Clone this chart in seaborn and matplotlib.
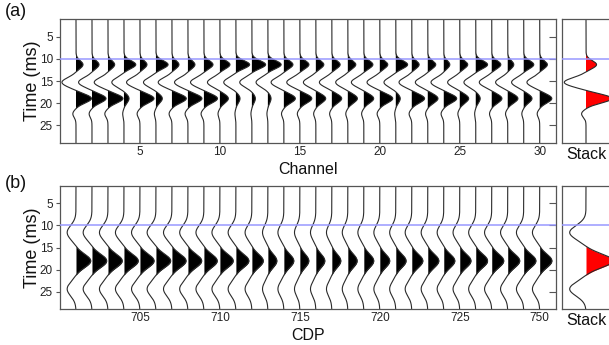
import numpy as np
import pandas as pd
import matplotlib
matplotlib.use("Agg")
import matplotlib.pyplot as plt
import seaborn as sns

# ---------------- data ----------------
channels = list(range(1, 31))
channel_ticks = [5, 10, 15, 20, 25, 30]
channel_ticklabels = ["5", "10", "15", "20", "25", "30"]
cdp_ticklabels = ["705", "710", "715", "720", "725", "750"]
time_ticks = [5, 10, 15, 20, 25]

# Gather (a): amplitudes of the events in each channel (units of trace spacing)
event1_amp = [0.44, 0.44, 0.42, 0.74, 0.44, 0.76, 0.44, 0.44, 0.57, 0.63,
              0.86, 0.86, 0.83, 0.57, 0.57, 0.50, 0.52, 0.50, 0.57, 0.50,
              0.74, 0.46, 0.50, 0.38, 0.50, 0.74, 0.57, 0.38, 0.63, 0.48]
trough_amp = [0.88, 0.84, 0.86, 0.76, 0.84, 0.78, 0.86, 0.84, 0.84, 0.78,
              0.76, 0.76, 0.74, 0.80, 0.82, 0.78, 0.78, 0.76, 0.78, 0.80,
              0.74, 0.80, 0.78, 0.80, 0.76, 0.74, 0.78, 0.76, 0.76, 0.80]
event2_amp = [0.97, 0.88, 0.94, 0.32, 0.88, 0.40, 0.90, 0.88, 0.85, 0.53,
              0.26, 0.22, 0.20, 0.72, 0.75, 0.62, 0.62, 0.60, 0.62, 0.81,
              0.28, 0.80, 0.64, 0.81, 0.56, 0.28, 0.64, 0.64, 0.52, 0.76]
tail_amp = [0.20, 0.18, 0.20, 0.08, 0.18, 0.10, 0.18, 0.18, 0.18, 0.12,
            0.06, 0.06, 0.06, 0.15, 0.16, 0.14, 0.14, 0.13, 0.14, 0.17,
            0.07, 0.17, 0.14, 0.17, 0.12, 0.07, 0.14, 0.14, 0.12, 0.16]

# Gather (b): amplitude of the single reflection in each CDP
cdp_amp = [0.92, 0.92, 0.89, 0.89, 0.88, 0.92, 0.88, 0.86, 0.83, 0.83,
           0.81, 0.71, 0.56, 0.62, 0.56, 0.56, 0.56, 0.58, 0.62, 0.62,
           0.64, 0.69, 0.69, 0.69, 0.70, 0.74, 0.75, 0.75, 0.76, 0.76]

# Stacked traces
stack_a = {"event1": 0.66, "trough": 1.36, "event2": 1.62, "tail": 0.28}
stack_b = 1.70

# ---------------- wavelets ----------------
t = np.arange(0.5, 29.5, 0.04)


def pulse(c, s):
    return np.exp(-0.5 * ((t - c) / s) ** 2)


def trace_a(a1, am, a2, a3):
    return (a1 * pulse(11.3, 0.90) - am * pulse(15.3, 1.05)
            + a2 * pulse(18.95, 1.0) - a3 * pulse(22.4, 0.80))


def trace_b(a):
    return a * (pulse(18.0, 1.5) - 0.6 * pulse(11.6, 1.6) - 0.6 * pulse(24.4, 1.6))


sns.set_theme(style="white")
plt.rcParams["font.family"] = ["Liberation Sans", "DejaVu Sans"]

W, H = 609, 345
fig = plt.figure(figsize=(W / 100, H / 100), dpi=100)


def px_axes(l, tp, r, b):
    return fig.add_axes([l / W, 1 - b / H, (r - l) / W, (b - tp) / H])


axA = px_axes(60, 19, 555.7, 143)
axAs = px_axes(561.7, 19, 612, 143)
axB = px_axes(60, 185.7, 555.7, 309.3)
axBs = px_axes(561.7, 185.7, 612, 309.3)

LINE = "#2a2a2a"
SPINE = "#555555"


def wiggle(ax, positions, traces, fill):
    rows = []
    for x0, s in zip(positions, traces):
        rows.append(pd.DataFrame({"trace": x0, "x": x0 + s, "t": t}))
    df = pd.concat(rows, ignore_index=True)
    for x0, s in zip(positions, traces):
        ax.fill_betweenx(t, x0, x0 + s, where=s > 0, interpolate=True,
                         color=fill, lw=0)
    sns.lineplot(data=df, x="x", y="t", units="trace", estimator=None,
                 sort=False, orient="y", color=LINE, linewidth=0.8,
                 legend=False, ax=ax)


traces_a = [trace_a(*v) for v in zip(event1_amp, trough_amp, event2_amp, tail_amp)]
traces_b = [trace_b(a) for a in cdp_amp]
stack_trace_a = trace_a(stack_a["event1"], stack_a["trough"], stack_a["event2"], stack_a["tail"])
stack_trace_b = trace_b(stack_b)

wiggle(axA, channels, traces_a, "black")
wiggle(axB, channels, traces_b, "black")
wiggle(axAs, [0], [stack_trace_a], "red")
wiggle(axBs, [0], [stack_trace_b], "red")

for ax, labels, xlabel in [(axA, channel_ticklabels, "Channel"),
                           (axB, cdp_ticklabels, "CDP")]:
    ax.set_xlim(0, 31)
    ax.set_ylim(29, 1)
    ax.set_xticks(channel_ticks)
    ax.set_xticklabels(labels)
    ax.set_yticks(time_ticks)
    ax.tick_params(axis="x", length=0, pad=2, labelsize=8.5, colors="#222")
    ax.tick_params(axis="y", length=3, width=0.8, direction="out", pad=2,
                   labelsize=8.5, left=True, colors="#222")
    ax.tick_params(axis="y", color=SPINE)
    ax.set_xlabel(xlabel, fontsize=11.5, labelpad=3, color="#111")
    ax.set_ylabel("Time (ms)", fontsize=13, labelpad=-1, color="#111")
    sec = ax.secondary_yaxis("right")
    sec.set_yticks(time_ticks)
    sec.tick_params(direction="in", length=5, width=0.8, color=SPINE,
                    labelright=False)
    for sp in sec.spines.values():
        sp.set_visible(False)

for ax in (axAs, axBs):
    ax.set_xlim(-24.3 / 16, (612 - 561.7 - 24.3) / 16)
    ax.set_ylim(29, 1)
    ax.set_xticks([])
    ax.set_yticks([])
    ax.set_xlabel("Stack", fontsize=11.5, labelpad=3, color="#111")
    ax.set_ylabel("")

for ax in (axA, axAs, axB, axBs):
    ax.axhline(10, color="#9898ff", lw=1.1, zorder=5)
    for sp in ax.spines.values():
        sp.set_color(SPINE)
        sp.set_linewidth(0.9)

fig.text(5 / W, 1 - 12 / H, "(a)", fontsize=13, va="center", ha="left", color="#111")
fig.text(5 / W, 1 - 183 / H, "(b)", fontsize=13, va="center", ha="left", color="#111")

fig.savefig("out.png", dpi=100)
